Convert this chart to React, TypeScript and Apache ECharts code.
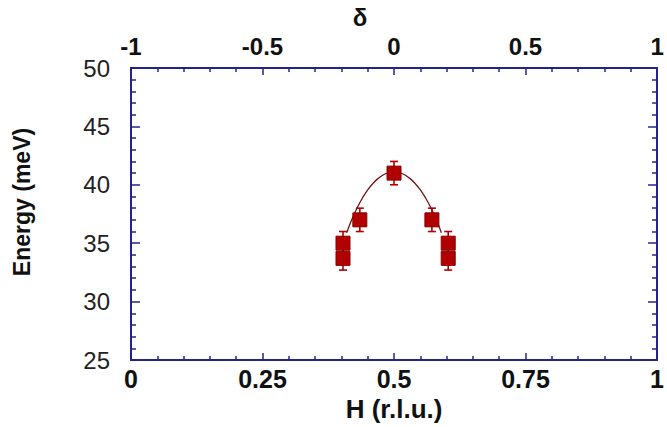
import React, { useEffect, useRef } from "react";
import * as echarts from "echarts";

const hTicks = [0, 0.25, 0.5, 0.75, 1];
const deltaTicks = [-1, -0.5, 0, 0.5, 1];
const energyTicks = [25, 30, 35, 40, 45, 50];

const pointH = [0.403, 0.403, 0.435, 0.5, 0.572, 0.603, 0.603];
const pointE = [35.0, 33.7, 37.0, 41.0, 37.0, 35.0, 33.7];
const pointErr = [1.0, 1.0, 1.0, 1.0, 1.0, 1.0, 1.0];

const fitH = [0.41, 0.415, 0.42, 0.43, 0.44, 0.45, 0.46, 0.47, 0.48, 0.49, 0.5, 0.51, 0.52, 0.53, 0.54, 0.55, 0.56, 0.57, 0.58, 0.585, 0.59];
const fitE = [35.9, 36.5, 37.05, 38.04, 38.87, 39.57, 40.12, 40.55, 40.86, 41.04, 41.1, 41.04, 40.86, 40.55, 40.12, 39.57, 38.87, 38.04, 37.05, 36.5, 35.9];

const FRAME = "#23238c";
const RED = "#b00000";
const FONT = "'Liberation Sans', Arial, sans-serif";

export default function App() {
  const ref = useRef<HTMLDivElement>(null);
  useEffect(() => {
    if (!ref.current) return;
    const chart = echarts.init(ref.current, null, { renderer: "svg" });
    const axisLine = { show: true, onZero: false, lineStyle: { color: FRAME, width: 2 } };
    const option: any = {
      animation: false,
      backgroundColor: "#ffffff",
      grid: { left: 131, right: 3, top: 68, bottom: 64, containLabel: false },
      xAxis: [
        {
          type: "value",
          position: "bottom",
          min: 0,
          max: 1,
          interval: 0.25,
          name: "H (r.l.u.)",
          nameLocation: "middle",
          nameGap: 36,
          nameTextStyle: { fontFamily: FONT, fontWeight: "bold", fontSize: 26, color: "#111" },
          axisLine,
          axisTick: { show: true, inside: true, length: 7, lineStyle: { color: FRAME, width: 1.5 } },
          minorTick: { show: true, splitNumber: 5, length: 4, lineStyle: { color: FRAME, width: 1.5 } },
          splitLine: { show: false },
          axisLabel: {
            margin: 6,
            fontFamily: FONT,
            fontWeight: "bold",
            fontSize: 25,
            color: "#111",
            formatter: (v: number) => (hTicks.includes(v) ? String(v) : ""),
          },
        },
        {
          type: "value",
          position: "top",
          min: -1,
          max: 1,
          interval: 0.5,
          name: "δ",
          nameLocation: "middle",
          nameGap: 34,
          nameTextStyle: { fontFamily: FONT, fontWeight: "bold", fontSize: 24, color: "#111", padding: [0, 68, 0, 0] },
          axisLine,
          axisTick: { show: true, inside: true, length: 7, lineStyle: { color: FRAME, width: 1.5 } },
          minorTick: { show: true, splitNumber: 5, length: 4, lineStyle: { color: FRAME, width: 1.5 } },
          splitLine: { show: false },
          axisLabel: {
            margin: 10,
            fontFamily: FONT,
            fontWeight: "bold",
            fontSize: 24,
            color: "#111",
            formatter: (v: number) => (deltaTicks.includes(v) ? String(v) : ""),
          },
        },
      ],
      yAxis: [
        {
          type: "value",
          position: "left",
          min: 25,
          max: 50,
          interval: 5,
          name: "Energy (meV)",
          nameLocation: "middle",
          nameGap: 98,
          nameRotate: 90,
          nameTextStyle: { fontFamily: FONT, fontWeight: "bold", fontSize: 23, color: "#111", padding: [0, 0, 0, 24] },
          axisLine,
          axisTick: { show: true, inside: true, length: 9, lineStyle: { color: FRAME, width: 1.5 } },
          minorTick: { show: true, splitNumber: 5, length: 5, lineStyle: { color: FRAME, width: 1.5 } },
          splitLine: { show: false },
          axisLabel: {
            margin: 21,
            fontFamily: FONT,
            fontSize: 24,
            color: "#222",
            formatter: (v: number) => (energyTicks.includes(v) ? String(v) : ""),
          },
        },
        {
          type: "value",
          position: "right",
          min: 25,
          max: 50,
          interval: 5,
          axisLine,
          axisTick: { show: true, inside: true, length: 9, lineStyle: { color: FRAME, width: 1.5 } },
          minorTick: { show: true, splitNumber: 5, length: 5, lineStyle: { color: FRAME, width: 1.5 } },
          splitLine: { show: false },
          axisLabel: { show: false },
        },
      ],
      series: [
        {
          type: "line",
          xAxisIndex: 0,
          yAxisIndex: 0,
          data: fitH.map((h, i) => [h, fitE[i]]),
          smooth: true,
          showSymbol: false,
          lineStyle: { color: "#6e1414", width: 1.3 },
          z: 2,
        },
        {
          type: "custom",
          xAxisIndex: 0,
          yAxisIndex: 0,
          data: pointH.map((h, i) => [h, pointE[i] - pointErr[i], pointE[i] + pointErr[i]]),
          renderItem: (params: any, api: any) => {
            const x = api.value(0);
            const lo = api.coord([x, api.value(1)]);
            const hi = api.coord([x, api.value(2)]);
            const cap = 4;
            const style = { stroke: RED, lineWidth: 1.6 };
            return {
              type: "group",
              children: [
                { type: "line", shape: { x1: lo[0], y1: lo[1], x2: hi[0], y2: hi[1] }, style },
                { type: "line", shape: { x1: lo[0] - cap, y1: lo[1], x2: lo[0] + cap, y2: lo[1] }, style },
                { type: "line", shape: { x1: hi[0] - cap, y1: hi[1], x2: hi[0] + cap, y2: hi[1] }, style },
              ],
            };
          },
          z: 3,
        },
        {
          type: "scatter",
          xAxisIndex: 0,
          yAxisIndex: 0,
          symbol: "rect",
          symbolSize: 14,
          data: pointH.map((h, i) => [h, pointE[i]]),
          itemStyle: { color: RED, opacity: 1, borderColor: "#8a0000", borderWidth: 1 },
          z: 4,
        },
      ],
    };
    chart.setOption(option);
    return () => chart.dispose();
  }, []);
  return (
    <div
      ref={ref}
      style={{ position: "absolute", left: 0, top: 0, width: 667, height: 427 }}
    />
  );
}
